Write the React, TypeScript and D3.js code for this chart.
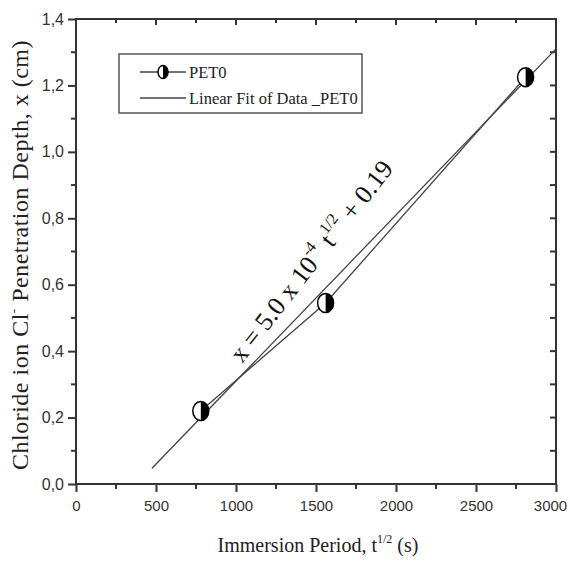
import { useEffect, useRef } from "react";
import * as d3 from "d3";

// measured points, PET0
const pet0Time = [780, 1560, 2810];
const pet0Depth = [0.22, 0.545, 1.225];

// linear fit end points
const fitTime = [475, 3000];
const fitDepth = [0.0475, 1.31];

const xTicks = [0, 500, 1000, 1500, 2000, 2500, 3000];
const xMinorTicks = [250, 750, 1250, 1750, 2250, 2750];
const yTicks = [0, 0.2, 0.4, 0.6, 0.8, 1.0, 1.2, 1.4];
const yMinorTicks = [0.1, 0.3, 0.5, 0.7, 0.9, 1.1, 1.3];

const legendLabels = ["PET0", "Linear Fit of Data _PET0"];

const W = 570;
const H = 563;

const App = () => {
    const ref = useRef<SVGSVGElement>(null);

    useEffect(() => {
        const svg = d3.select(ref.current);
        svg.selectAll("*").remove();

        const margin = { top: 19, right: 14, bottom: 79, left: 76 };
        const x = d3.scaleLinear().domain([0, 3000]).range([margin.left, W - margin.right]);
        const y = d3.scaleLinear().domain([0, 1.4]).range([H - margin.bottom, margin.top]);

        const axisColor = "#333";
        const tickFont = "'Liberation Sans Narrow', 'Arial Narrow', 'Liberation Sans', sans-serif";
        const serif = "'Liberation Serif', 'Times New Roman', serif";
        const fmt = (d: number) => d3.format(".1f")(d).replace(".", ",");

        // frame
        svg.append("rect")
            .attr("x", x(0)).attr("y", y(1.4))
            .attr("width", x(3000) - x(0)).attr("height", y(0) - y(1.4))
            .attr("fill", "none").attr("stroke", axisColor).attr("stroke-width", 2);

        // bottom axis, outward ticks
        svg.append("g")
            .attr("transform", `translate(0,${y(0)})`)
            .call(d3.axisBottom(x).tickValues(xTicks).tickSize(8).tickPadding(8).tickFormat(d => String(d)))
            .call(g => g.select(".domain").remove())
            .call(g => g.selectAll("line").attr("stroke", axisColor).attr("stroke-width", 2))
            .call(g => g.selectAll("text").attr("fill", "#333").attr("font-size", 15).attr("font-family", tickFont)
                .attr("dx", d => (d === 3000 ? -6 : 0)));
        svg.append("g").selectAll("line").data(xMinorTicks).enter().append("line")
            .attr("x1", d => x(d)).attr("x2", d => x(d))
            .attr("y1", y(0)).attr("y2", y(0) + 5)
            .attr("stroke", axisColor).attr("stroke-width", 2);

        // top axis, inward ticks
        svg.append("g").selectAll("line").data(xTicks.concat(xMinorTicks)).enter().append("line")
            .attr("x1", d => x(d)).attr("x2", d => x(d))
            .attr("y1", y(1.4)).attr("y2", d => y(1.4) + (d % 500 === 0 ? 6 : 4))
            .attr("stroke", axisColor).attr("stroke-width", 2);

        // left axis, outward ticks
        svg.append("g")
            .attr("transform", `translate(${x(0)},0)`)
            .call(d3.axisLeft(y).tickValues(yTicks).tickSize(8).tickPadding(4).tickFormat(d => fmt(+d)))
            .call(g => g.select(".domain").remove())
            .call(g => g.selectAll("line").attr("stroke", axisColor).attr("stroke-width", 2))
            .call(g => g.selectAll("text").attr("fill", "#333").attr("font-size", 16).attr("font-family", tickFont));
        svg.append("g").selectAll("line").data(yMinorTicks).enter().append("line")
            .attr("x1", x(0) - 5).attr("x2", x(0))
            .attr("y1", d => y(d)).attr("y2", d => y(d))
            .attr("stroke", axisColor).attr("stroke-width", 2);

        // right axis, inward ticks
        svg.append("g").selectAll("line").data(yTicks.concat(yMinorTicks)).enter().append("line")
            .attr("x1", x(3000) - 6).attr("x2", x(3000))
            .attr("y1", d => y(d)).attr("y2", d => y(d))
            .attr("stroke", axisColor).attr("stroke-width", 2);

        // axis titles
        const xt = svg.append("text")
            .attr("x", (x(0) + x(3000)) / 2 + 2).attr("y", 552)
            .attr("text-anchor", "middle")
            .attr("font-family", serif).attr("font-size", 20).attr("fill", "#222");
        xt.append("tspan").text("Immersion Period, t");
        xt.append("tspan").attr("font-size", 12).attr("dy", -9).text("1/2");
        xt.append("tspan").attr("dy", 9).text(" (s)");

        const yt = svg.append("text")
            .attr("transform", "translate(28,255) rotate(-90)")
            .attr("text-anchor", "middle")
            .attr("font-family", serif).attr("font-size", 24).attr("fill", "#222")
            .attr("letter-spacing", 0.5);
        yt.append("tspan").text("Chloride ion Cl");
        yt.append("tspan").attr("font-size", 13).attr("dy", -10).text("-");
        yt.append("tspan").attr("dy", 10).text(" Penetration Depth, x (cm)");

        const pts = pet0Time.map((t, i) => [t, pet0Depth[i]] as [number, number]);
        const fit = fitTime.map((t, i) => [t, fitDepth[i]] as [number, number]);
        const line = d3.line<[number, number]>().x(d => x(d[0])).y(d => y(d[1]));

        svg.append("path").attr("d", line(fit)!)
            .attr("fill", "none").attr("stroke", "#444").attr("stroke-width", 1.3);
        svg.append("path").attr("d", line(pts)!)
            .attr("fill", "none").attr("stroke", "#444").attr("stroke-width", 1.3);

        const marker = (g: d3.Selection<SVGGElement, unknown, null, undefined>, rx: number, ry: number) => {
            g.append("ellipse").attr("rx", rx).attr("ry", ry)
                .attr("fill", "#fff").attr("stroke", "#000").attr("stroke-width", 1.5);
            g.append("path")
                .attr("d", `M0,${-ry} A${rx},${ry} 0 0 1 0,${ry} Z`)
                .attr("fill", "#000");
        };

        pts.forEach(d => {
            const g = svg.append("g").attr("transform", `translate(${x(d[0])},${y(d[1])})`);
            marker(g, 8, 9.5);
        });

        // equation
        const eq = svg.append("text")
            .attr("transform", "translate(242,364) rotate(-52)")
            .attr("font-family", serif).attr("font-size", 26).attr("fill", "#111");
        eq.append("tspan").text("x = 5.0 x 10");
        eq.append("tspan").attr("font-size", 16).attr("dy", -13).text("-4");
        eq.append("tspan").attr("dy", 13).attr("dx", 8).text("t");
        eq.append("tspan").attr("font-size", 16).attr("dy", -13).text("1/2");
        eq.append("tspan").attr("dy", 13).text(" + 0.19");

        // legend
        const lg = svg.append("g");
        lg.append("rect").attr("x", 119).attr("y", 54).attr("width", 243).attr("height", 59)
            .attr("fill", "#fff").attr("stroke", "#555").attr("stroke-width", 1.5);
        legendLabels.forEach((label, i) => {
            const ly = 72 + i * 26;
            lg.append("line").attr("x1", 140).attr("x2", 186).attr("y1", ly).attr("y2", ly)
                .attr("stroke", "#444").attr("stroke-width", 1.3);
            if (i === 0) {
                const g = lg.append("g").attr("transform", `translate(163,${ly})`);
                marker(g, 5, 6.5);
            }
            lg.append("text").attr("x", 189).attr("y", ly + 6)
                .attr("font-family", serif).attr("font-size", 16.5).attr("fill", "#222")
                .text(label);
        });
    }, []);

    return (
        <svg ref={ref} width={W} height={H}
            style={{ position: "absolute", left: 0, top: 0, background: "#fff" }} />
    );
};

export default App;
